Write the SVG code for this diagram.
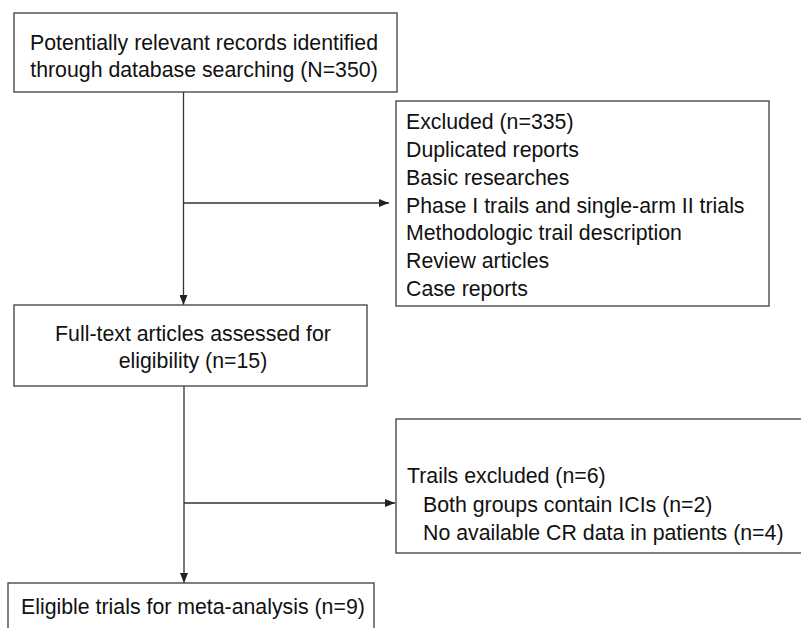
<svg xmlns="http://www.w3.org/2000/svg" width="801" height="628" viewBox="0 0 801 628">
<style>
  .box { fill: #ffffff; stroke: #4a4a4a; stroke-width: 1.4; }
  .t { font-family: "Liberation Sans", Arial, sans-serif; font-size: 21.3px; fill: #111111; }
  .c { text-anchor: middle; }
  .ln { stroke: #333333; stroke-width: 1.3; fill: none; }
</style>
<defs>
  <marker id="ah" viewBox="0 0 10 8" refX="10" refY="4" markerWidth="10" markerHeight="8" markerUnits="userSpaceOnUse" orient="auto">
    <path d="M0,0 L10,4 L0,8 Z" fill="#222222"/>
  </marker>
</defs>
<rect x="0" y="0" width="801" height="628" fill="#ffffff"/>
<g id="connectors">
  <line class="ln" x1="183.5" y1="92" x2="183.5" y2="305" marker-end="url(#ah)"/>
  <line class="ln" x1="183.5" y1="203" x2="389" y2="203" marker-end="url(#ah)"/>
  <line class="ln" x1="184" y1="386" x2="184" y2="583" marker-end="url(#ah)"/>
  <line class="ln" x1="184" y1="503" x2="395" y2="503" marker-end="url(#ah)"/>
</g>
<g id="records">
  <rect class="box" x="14" y="13" width="383" height="79"/>
  <text class="t c" x="204" y="50">Potentially relevant records identified</text>
  <text class="t c" x="204" y="77">through database searching (N=350)</text>
</g>
<g id="excluded">
  <rect class="box" x="396" y="101" width="373" height="205"/>
  <text class="t" x="406" y="129">Excluded (n=335)</text>
  <text class="t" x="406" y="157">Duplicated reports</text>
  <text class="t" x="406" y="185">Basic researches</text>
  <text class="t" x="406" y="213">Phase I trails and single-arm II trials</text>
  <text class="t" x="406" y="240">Methodologic trail description</text>
  <text class="t" x="406" y="268">Review articles</text>
  <text class="t" x="406" y="296">Case reports</text>
</g>
<g id="fulltext">
  <rect class="box" x="14" y="305" width="353" height="81"/>
  <text class="t c" x="193" y="341">Full-text articles assessed for</text>
  <text class="t c" x="193" y="368">eligibility (n=15)</text>
</g>
<g id="trails-excluded">
  <rect class="box" x="396" y="419" width="430" height="134"/>
  <text class="t" x="407" y="483">Trails excluded (n=6)</text>
  <text class="t" x="423" y="512">Both groups contain ICIs (n=2)</text>
  <text class="t" x="423" y="540">No available CR data in patients (n=4)</text>
</g>
<g id="eligible">
  <rect class="box" x="8" y="583" width="366" height="60"/>
  <text class="t" x="21" y="614">Eligible trials for meta-analysis (n=9)</text>
</g>
</svg>
